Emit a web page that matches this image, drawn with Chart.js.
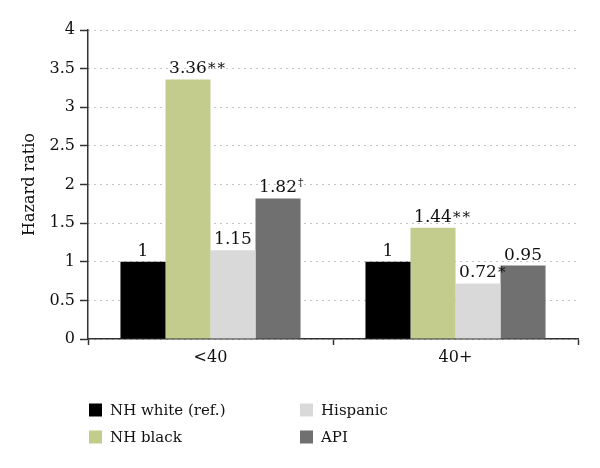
<!DOCTYPE html>
<html>
<head>
<meta charset="utf-8">
<script src="https://cdn.jsdelivr.net/npm/chart.js@4/dist/chart.umd.min.js"></script>
<style>
  body { margin: 0; background: #fff; }
  #wrap { width: 600px; height: 468px; }
</style>
</head>
<body>
<div id="wrap"><canvas id="chart" width="600" height="468"></canvas></div>
<script>
// chart values
const categories = ['<40', '40+'];
const seriesNames = ['NH white (ref.)', 'NH black', 'Hispanic', 'API'];
const nhWhite = [1, 1];
const nhBlack = [3.36, 1.44];
const hispanic = [1.15, 0.72];
const api = [1.82, 0.95];
// significance marks shown after the values
const nhWhiteNotes = ['', ''];
const nhBlackNotes = ['**', '**'];
const hispanicNotes = ['', '*'];
const apiNotes = ['\u2020', ''];
const yTicks = [0, 0.5, 1, 1.5, 2, 2.5, 3, 3.5, 4];

const colors = ['#000000', '#c3cc8d', '#d9d9d9', '#707070'];
const serif = "'DejaVu Serif', serif";

const seriesValues = [nhWhite, nhBlack, hispanic, api];
const seriesNotes = [nhWhiteNotes, nhBlackNotes, hispanicNotes, apiNotes];

// labels over the bars
const valueLabels = {
    id: 'valueLabels',
    afterDatasetsDraw(chart) {
        const ctx = chart.ctx;
        ctx.save();
        ctx.fillStyle = '#111';
        ctx.textBaseline = 'alphabetic';
        chart.data.datasets.forEach((ds, i) => {
            const meta = chart.getDatasetMeta(i);
            meta.data.forEach((bar, j) => {
                const txt = String(ds.data[j]);
                ctx.font = '17px ' + serif;
                const w = ctx.measureText(txt).width;
                const y = bar.y - 6;
                ctx.textAlign = 'center';
                ctx.fillText(txt, bar.x, y);
                const note = seriesNotes[i][j];
                if (!note) return;
                ctx.textAlign = 'left';
                if (note === '\u2020') {
                    ctx.font = '11px ' + serif;
                    ctx.fillText(note, bar.x + w / 2 + 1, y - 6);
                } else {
                    ctx.font = '15px ' + serif;
                    let x = bar.x + w / 2 + 1;
                    for (const ch of note) {
                        ctx.fillText(ch, x, y);
                        x += ctx.measureText(ch).width + 2;
                    }
                }
            });
        });
        ctx.restore();
    }
};

// two-column legend under the plot
const gridLegend = {
    id: 'gridLegend',
    afterDraw(chart) {
        const ctx = chart.ctx;
        ctx.save();
        ctx.font = '15px ' + serif;
        ctx.textBaseline = 'middle';
        ctx.textAlign = 'left';
        chart.data.datasets.forEach((ds, i) => {
            const col = Math.floor(i / 2);
            const row = i % 2;
            const x = 89 + col * 211;
            const y = 410 + row * 27;
            ctx.fillStyle = ds.backgroundColor;
            ctx.fillRect(x, y - 6.5, 13, 13);
            ctx.fillStyle = '#111';
            ctx.fillText(ds.label, x + 21, y + 1);
        });
        ctx.restore();
    }
};

new Chart(document.getElementById('chart').getContext('2d'), {
    type: 'bar',
    data: {
        labels: categories,
        datasets: seriesNames.map((name, i) => ({
            label: name,
            data: seriesValues[i],
            backgroundColor: colors[i],
            borderWidth: 0,
            categoryPercentage: 0.735,
            barPercentage: 1
        }))
    },
    options: {
        responsive: false,
        animation: false,
        layout: { padding: { top: 30, right: 22, bottom: 99, left: 0 } },
        plugins: {
            legend: { display: false },
            tooltip: { enabled: false }
        },
        scales: {
            x: {
                afterFit(scale) { scale.height = 30; },
                grid: {
                    offset: true,
                    drawOnChartArea: false,
                    tickLength: 6,
                    tickColor: '#333',
                    tickWidth: 1.5
                },
                border: { color: '#333', width: 1.5 },
                ticks: { color: '#111', font: { family: serif, size: 16 }, padding: 3 }
            },
            y: {
                min: 0,
                max: 4,
                afterFit(scale) { scale.width = 88; },
                afterBuildTicks(scale) { scale.ticks = yTicks.map(v => ({ value: v })); },
                grid: {
                    color: '#8a8a8a',
                    lineWidth: 1,
                    tickLength: 8,
                    tickColor: '#333',
                    tickWidth: 1.5,
                    tickBorderDash: []
                },
                border: { color: '#333', width: 1.5, dash: [1, 5] },
                ticks: {
                    color: '#111',
                    font: { family: serif, size: 16 },
                    padding: 5,
                    callback: v => String(v)
                },
                title: {
                    display: true,
                    text: 'Hazard ratio',
                    color: '#111',
                    font: { family: serif, size: 16 },
                    padding: { top: 20, bottom: 0 }
                }
            }
        }
    },
    plugins: [valueLabels, gridLegend]
});
</script>
</body>
</html>
